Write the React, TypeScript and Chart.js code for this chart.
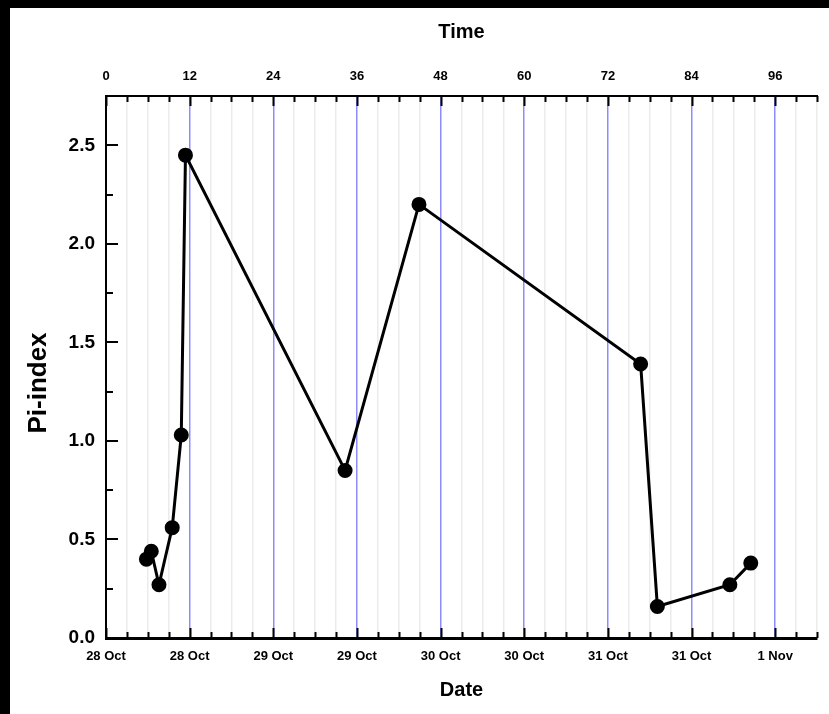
import React, { useEffect, useRef } from "react";
import { Chart, registerables } from "chart.js";
Chart.register(...registerables);

// Data
const timeHours = [5.8, 6.5, 7.6, 9.5, 10.8, 11.4, 34.3, 44.9, 76.7, 79.1, 89.5, 92.5];
const piIndex = [0.4, 0.44, 0.27, 0.56, 1.03, 2.45, 0.85, 2.2, 1.39, 0.16, 0.27, 0.38];

const timeTickLabels = ["0", "12", "24", "36", "48", "60", "72", "84", "96"];
const dateTickLabels = ["28 Oct", "28 Oct", "29 Oct", "29 Oct", "30 Oct", "30 Oct", "31 Oct", "31 Oct", "1 Nov"];
const yTickLabels = ["0.0", "0.5", "1.0", "1.5", "2.0", "2.5"];

const FONT = "'Liberation Sans', Arial, sans-serif";

const isMult = (v: number, m: number) => Math.abs(v / m - Math.round(v / m)) < 1e-6;

const insideTicks = {
  id: "insideTicks",
  afterDraw(chart: any) {
    const { ctx, chartArea } = chart;
    ctx.save();
    ctx.strokeStyle = "#000";
    ctx.lineWidth = 2;
    const xs = chart.scales.x;
    const xt = chart.scales.x2;
    const ys = chart.scales.y;
    xs.ticks.forEach((t: any) => {
      const px = Math.round(xs.getPixelForValue(t.value)) + 0.5;
      const len = isMult(t.value, 12) ? 10 : 6;
      ctx.beginPath();
      ctx.moveTo(px, chartArea.bottom);
      ctx.lineTo(px, chartArea.bottom - len);
      ctx.stroke();
    });
    xt.ticks.forEach((t: any) => {
      const px = Math.round(xt.getPixelForValue(t.value)) + 0.5;
      const len = isMult(t.value, 12) ? 10 : 6;
      ctx.beginPath();
      ctx.moveTo(px, chartArea.top);
      ctx.lineTo(px, chartArea.top + len);
      ctx.stroke();
    });
    ys.ticks.forEach((t: any) => {
      const py = Math.round(ys.getPixelForValue(t.value));
      const len = isMult(t.value, 0.5) ? 12 : 7;
      ctx.beginPath();
      ctx.moveTo(chartArea.left, py);
      ctx.lineTo(chartArea.left + len, py);
      ctx.stroke();
    });
    // y-axis title
    ctx.fillStyle = "#000";
    ctx.font = `bold 26px ${FONT}`;
    ctx.textAlign = "center";
    ctx.textBaseline = "middle";
    ctx.translate(29, 375);
    ctx.rotate(-Math.PI / 2);
    ctx.fillText("Pi-index", 0, 0);
    ctx.restore();
  },
};

export default function App() {
  const ref = useRef<HTMLCanvasElement>(null);
  useEffect(() => {
    if (!ref.current) return;
    const chart = new Chart(ref.current, {
      type: "line",
      data: {
        datasets: [
          {
            data: timeHours.map((t, i) => ({ x: t, y: piIndex[i] })),
            borderColor: "#000",
            backgroundColor: "#000",
            borderWidth: 3,
            pointRadius: 6,
            pointHoverRadius: 6,
            pointBackgroundColor: "#000",
            pointBorderColor: "#000",
            tension: 0,
            xAxisID: "x",
            yAxisID: "y",
          },
        ],
      },
      options: {
        responsive: false,
        animation: false,
        devicePixelRatio: 1,
        layout: { padding: { left: 0, right: 10, top: 0, bottom: 0 } },
        plugins: { legend: { display: false }, tooltip: { enabled: false } },
        scales: {
          x: {
            type: "linear",
            position: "bottom",
            min: 0,
            max: 102,
            afterFit: (s: any) => {
              s.height = 76;
            },
            ticks: {
              stepSize: 3,
              autoSkip: false,
              maxRotation: 0,
              padding: 11,
              color: "#000",
              font: { family: FONT, size: 13, weight: "bold" },
              callback: (v: any) => (isMult(Number(v), 12) ? dateTickLabels[Math.round(Number(v) / 12)] : ""),
            },
            grid: {
              drawTicks: false,
              color: (c: any) => {
                const v = c.tick ? c.tick.value : 0;
                if (v === 0) return "rgba(0,0,0,0)";
                return isMult(v, 12) ? "rgba(120,120,255,0.85)" : "#ebebeb";
              },
              lineWidth: 1.5,
            },
            border: { display: true, color: "#000", width: 3 },
            title: {
              display: true,
              text: "Date",
              color: "#000",
              font: { family: FONT, size: 20, weight: "bold" },
              padding: { top: 0, bottom: 12 },
            },
          },
          x2: {
            type: "linear",
            position: "top",
            display: true,
            min: 0,
            max: 102,
            afterFit: (s: any) => {
              s.height = 88;
            },
            ticks: {
              stepSize: 3,
              autoSkip: false,
              maxRotation: 0,
              padding: 12,
              color: "#000",
              font: { family: FONT, size: 13, weight: "bold" },
              callback: (v: any) => (isMult(Number(v), 12) ? timeTickLabels[Math.round(Number(v) / 12)] : ""),
            },
            grid: { display: false, drawTicks: false },
            border: { display: true, color: "#000", width: 2 },
            title: {
              display: true,
              text: "Time",
              color: "#000",
              font: { family: FONT, size: 20, weight: "bold" },
              padding: { top: 12, bottom: 0 },
            },
          },
          y: {
            type: "linear",
            position: "left",
            min: 0,
            max: 2.75,
            afterFit: (s: any) => {
              s.width = 96;
            },
            ticks: {
              stepSize: 0.25,
              autoSkip: false,
              padding: 11,
              color: "#000",
              font: { family: FONT, size: 19, weight: "bold" },
              callback: (v: any) => (isMult(Number(v), 0.5) ? yTickLabels[Math.round(Number(v) / 0.5)] : ""),
            },
            grid: { display: false, drawTicks: false },
            border: { display: true, color: "#000", width: 2 },
          },
        },
      },
      plugins: [insideTicks],
    });
    return () => chart.destroy();
  }, []);

  return (
    <div style={{ position: "fixed", left: 0, top: 0, width: 829, height: 714, background: "#000" }}>
      <div style={{ position: "absolute", left: 10, top: 8, width: 819, height: 706, background: "#fff" }}>
        <canvas ref={ref} width={819} height={706} style={{ display: "block", width: 819, height: 706 }} />
      </div>
    </div>
  );
}
